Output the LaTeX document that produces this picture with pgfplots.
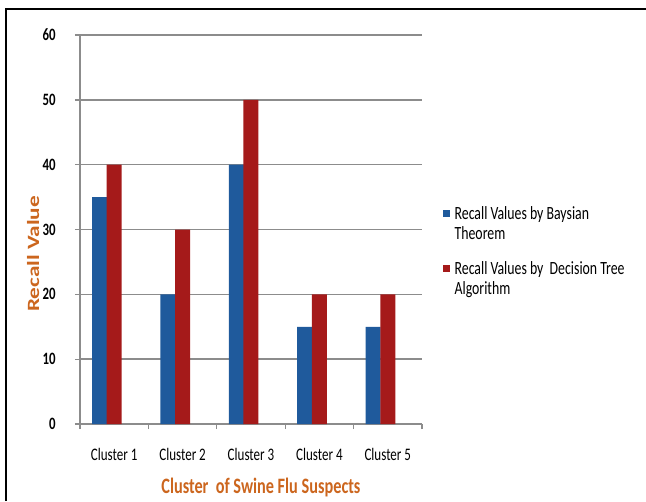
\documentclass[border=0pt]{standalone}
\usepackage{pgfplots}
\pgfplotsset{compat=1.18}
\usepackage{fontspec}
\setmainfont{Carlito}[FakeStretch=0.74]
\newfontfamily\widefont{Carlito}[FakeStretch=1.35]
\definecolor{bblue}{HTML}{1F5A9C}
\definecolor{bred}{HTML}{A51A1A}
\definecolor{gridg}{HTML}{8C8C8C}
\definecolor{lblor}{HTML}{CC661E}
\begin{document}
\begin{tikzpicture}
\useasboundingbox (0,0) rectangle (484.5pt,375.75pt);
\draw[line width=1.5pt] (4.5pt,0) -- (4.5pt,369pt) -- (484.5pt,369pt);
\begin{axis}[
  at={(60pt,57.75pt)}, anchor=south west,
  width=256.5pt, height=291.75pt, scale only axis,
  xmin=-0.5, xmax=4.5, ymin=0, ymax=60,
  ytick={0,10,...,60},
  xtick={0,...,4},
  xticklabels={Cluster 1,Cluster 2,Cluster 3,Cluster 4,Cluster 5},
  minor xtick={-0.5,0.5,...,4.5},
  major x tick style={draw=none},
  minor x tick style={gridg, line width=1pt},
  ytick style={gridg, line width=1pt},
  tick align=outside,
  major tick length=3.75pt, minor tick length=3.75pt,
  axis x line*=bottom, axis y line*=left,
  axis line style={gridg, line width=1pt, -},
  ymajorgrids, grid style={gridg, line width=1.1pt},
  /pgf/number format/assume math mode=true,
  yticklabel style={font=\fontsize{13pt}{15pt}\selectfont\bfseries, xshift=-11pt},
  xticklabel style={font=\fontsize{13.2pt}{15pt}\selectfont, yshift=-11pt},
  xlabel={Cluster\ \ of Swine Flu Suspects},
  xlabel style={at={(axis description cs:0.529,-0.162)}, anchor=center, font=\fontsize{16.5pt}{18pt}\selectfont\bfseries, text=lblor},
  ylabel={Recall Value},
  ylabel style={at={(axis description cs:-0.137,0.437)}, anchor=center, rotate=0, font=\widefont\fontsize{12.9pt}{15pt}\selectfont\bfseries, text=lblor},
  legend style={at={(1.056,0.574)}, anchor=north west, draw=none, fill=none,
    font=\fontsize{14pt}{15pt}\selectfont, row sep=11pt, column sep=1.5pt,
    cells={align=left}, inner xsep=1pt},
  legend cell align=left,
  legend image code/.code={\fill[#1] (0pt,4.8pt) rectangle (5.4pt,10.2pt);},
]
\addplot[ybar, bar width=11.25pt, bar shift=-11pt, fill=bblue, draw=none]
  coordinates {(0,35) (1,20) (2,40) (3,15) (4,15)};
\addlegendentry{Recall Values by Baysian\\Theorem}
\addplot[ybar, bar width=11.25pt, bar shift=0pt, fill=bred, draw=none]
  coordinates {(0,40) (1,30) (2,50) (3,20) (4,20)};
\addlegendentry{Recall Values by\ \ Decision Tree\\Algorithm}
\end{axis}
\end{tikzpicture}
\end{document}
